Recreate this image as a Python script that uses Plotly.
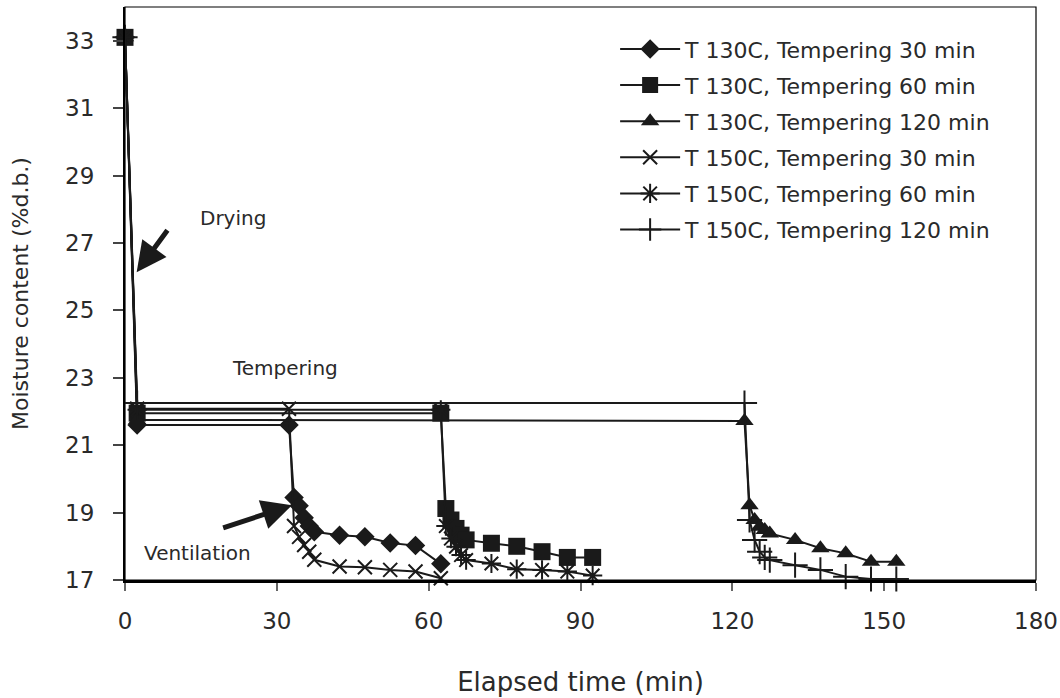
import plotly.graph_objects as go

# ---- data (elapsed time in min, moisture content in %d.b.) ----
series_names = [
    "T 130C, Tempering 30 min",
    "T 130C, Tempering 60 min",
    "T 130C, Tempering 120 min",
    "T 150C, Tempering 30 min",
    "T 150C, Tempering 60 min",
    "T 150C, Tempering 120 min",
]

t_130_30 = [0, 2.4, 32.4, 33.4, 34.4, 35.4, 36.4, 37.4, 42.4, 47.4, 52.4, 57.4, 62.4]
mc_130_30 = [33.1, 21.6, 21.6, 19.45, 19.2, 18.85, 18.6, 18.43, 18.33, 18.28, 18.1, 18.02, 17.48]

t_130_60 = [0, 2.4, 62.4, 63.4, 64.4, 65.4, 66.4, 67.4, 72.4, 77.4, 82.4, 87.4, 92.4]
mc_130_60 = [33.1, 21.95, 21.95, 19.12, 18.78, 18.53, 18.33, 18.19, 18.09, 18.0, 17.84, 17.67, 17.67]

t_130_120 = [0, 2.4, 122.4, 123.4, 124.4, 125.4, 126.4, 127.4, 132.4, 137.4, 142.4, 147.4, 152.4]
mc_130_120 = [33.1, 21.75, 21.72, 19.22, 18.78, 18.58, 18.48, 18.38, 18.19, 17.94, 17.79, 17.54, 17.54]

t_150_30 = [0, 2.4, 32.4, 33.4, 34.4, 35.4, 36.4, 37.4, 42.4, 47.4, 52.4, 57.4, 62.4]
mc_150_30 = [33.1, 22.08, 22.08, 18.6, 18.28, 18.04, 17.84, 17.6, 17.4, 17.38, 17.3, 17.25, 17.05]

t_150_60 = [0, 2.4, 62.4, 63.4, 64.4, 65.4, 66.4, 67.4, 72.4, 77.4, 82.4, 87.4, 92.4]
mc_150_60 = [33.1, 22.05, 22.05, 18.6, 18.23, 17.99, 17.74, 17.59, 17.49, 17.32, 17.3, 17.25, 17.13]

t_150_120 = [0, 2.4, 122.4, 123.4, 124.4, 125.4, 126.4, 127.4, 132.4, 137.4, 142.4, 147.4, 152.4]
mc_150_120 = [33.1, 22.25, 22.25, 18.78, 18.19, 17.84, 17.67, 17.59, 17.44, 17.3, 17.1, 17.03, 17.03]

x_ticks = [0, 30, 60, 90, 120, 150, 180]
y_ticks = [17, 19, 21, 23, 25, 27, 29, 31, 33]

# ---- styling ----
FONT = "DejaVu Sans"
TXT = "#2a2a2a"
INK = "#1a1a1a"
styles = [
    dict(symbol="diamond", size=15, line=dict(width=0)),
    dict(symbol="square", size=17, line=dict(width=0)),
    dict(symbol="triangle-up", size=16, line=dict(width=0)),
    dict(symbol="x-thin", size=14, line=dict(width=2, color=INK)),
    dict(symbol="asterisk", size=16, line=dict(width=2, color=INK)),
    dict(symbol="cross-thin", size=18, line=dict(width=2, color=INK)),
]
xs = [t_130_30, t_130_60, t_130_120, t_150_30, t_150_60, t_150_120]
ys = [mc_130_30, mc_130_60, mc_130_120, mc_150_30, mc_150_60, mc_150_120]

fig = go.Figure()
for i, (name, x, y, st) in enumerate(zip(series_names, xs, ys, styles)):
    fig.add_trace(go.Scatter(
        x=x, y=y, name=name, mode="lines+markers",
        line=dict(color=INK, width=2),
        marker=dict(color=INK, **st),
        cliponaxis=False,
        legendgroup=f"g{i}",
    ))

ann_font = dict(family=FONT, size=20, color=TXT)
fig.update_layout(
    width=1060, height=698,
    paper_bgcolor="white", plot_bgcolor="white",
    margin=dict(l=125, r=24, t=7, b=118, autoexpand=False),
    font=dict(family=FONT, size=22, color=TXT),
    showlegend=True,
    legend=dict(
        x=0.538, y=0.963, xanchor="left", yanchor="top",
        bgcolor="rgba(0,0,0,0)", font=dict(family=FONT, size=22, color=TXT),
        tracegroupgap=4.5, itemwidth=60,
    ),
    xaxis=dict(
        range=[0, 180], tickvals=x_ticks, ticks="outside", ticklen=8, tickwidth=1.5,
        tickcolor="#666", showline=True, linecolor="black", linewidth=2.5,
        showgrid=False, zeroline=False, ticklabelstandoff=11, automargin=False,
        tickfont=dict(family=FONT, size=23, color=TXT),
        title=dict(text="Elapsed time (min)", font=dict(family=FONT, size=26, color=TXT), standoff=40),
    ),
    yaxis=dict(
        range=[17, 34], tickvals=y_ticks, ticks="outside", ticklen=10, tickwidth=1.5,
        tickcolor="#444", showline=True, linecolor="black", linewidth=2,
        showgrid=False, zeroline=False, ticklabelstandoff=14, automargin=False,
        tickfont=dict(family=FONT, size=23, color=TXT),
        title=dict(text="Moisture content (%d.b.)", font=dict(family=FONT, size=22, color=TXT), standoff=30),
    ),
    shapes=[dict(type="rect", xref="paper", yref="paper", x0=0, x1=1, y0=0, y1=1,
                 line=dict(color="black", width=1.2), layer="below")],
    annotations=[
        dict(x=21.4, y=27.73, xref="x", yref="y", text="Drying", showarrow=False, font=ann_font),
        dict(x=31.6, y=23.28, xref="x", yref="y", text="Tempering", showarrow=False, font=ann_font),
        dict(x=14.4, y=17.8, xref="x", yref="y", text="Ventilation", showarrow=False, font=ann_font),
        dict(x=2.3, y=26.13, ax=8.6, ay=27.42, xref="x", yref="y", axref="x", ayref="y",
             text="", showarrow=True, arrowhead=2, arrowsize=1.2, arrowwidth=5, arrowcolor=INK),
        dict(x=33.0, y=19.22, ax=19.1, ay=18.53, xref="x", yref="y", axref="x", ayref="y",
             text="", showarrow=True, arrowhead=2, arrowsize=1.2, arrowwidth=5, arrowcolor=INK),
    ],
)

fig.write_html(
    "out.html",
    config={"displayModeBar": False},
    post_script="document.body.style.margin='0';document.body.style.overflow='hidden';",
)
